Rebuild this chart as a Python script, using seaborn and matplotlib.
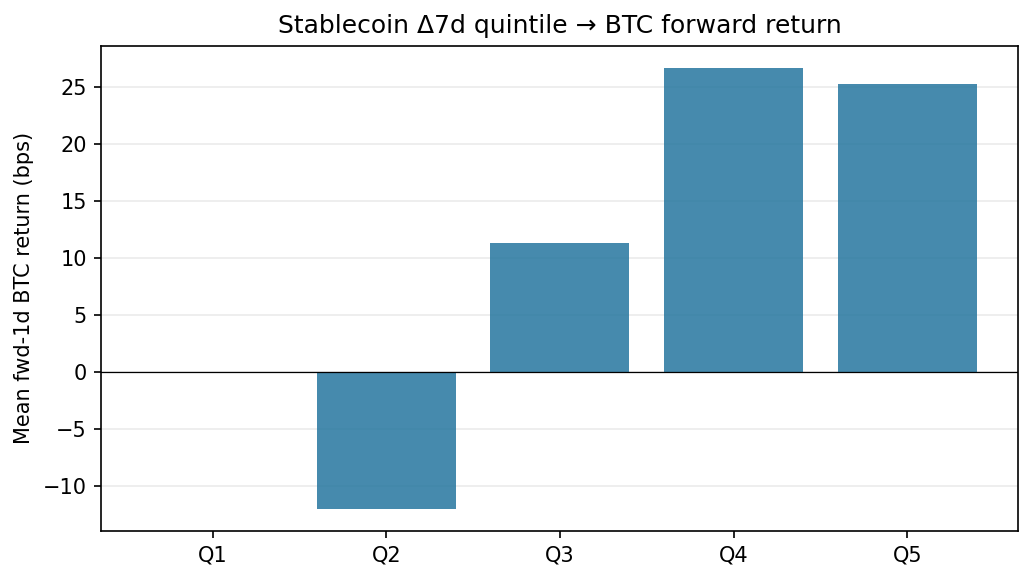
import seaborn as sns
import matplotlib.pyplot as plt
import pandas as pd

quintiles = ['Q1', 'Q2', 'Q3', 'Q4', 'Q5']
mean_ret_bps = [0.0, -12.0, 11.3, 26.7, 25.3]

df = pd.DataFrame({'quintile': quintiles, 'ret': mean_ret_bps})

fig, ax = plt.subplots(figsize=(1034 / 150, 582 / 150), dpi=150)
fig.subplots_adjust(left=0.098, right=0.985, top=0.921, bottom=0.088)

ax.grid(axis='y', alpha=0.25)
ax.set_axisbelow(True)
sns.barplot(x='quintile', y='ret', data=df, color='#25769f', alpha=0.85,
            errorbar=None, width=0.8, saturation=1, ax=ax)
ax.axhline(0, color='black', linewidth=0.6)
ax.set_xlim(-0.64, 4.64)

ax.set_title('Stablecoin Δ7d quintile → BTC forward return')
ax.set_xlabel('')
ax.set_ylabel('Mean fwd-1d BTC return (bps)')

fig.savefig('out.png', dpi=150)
